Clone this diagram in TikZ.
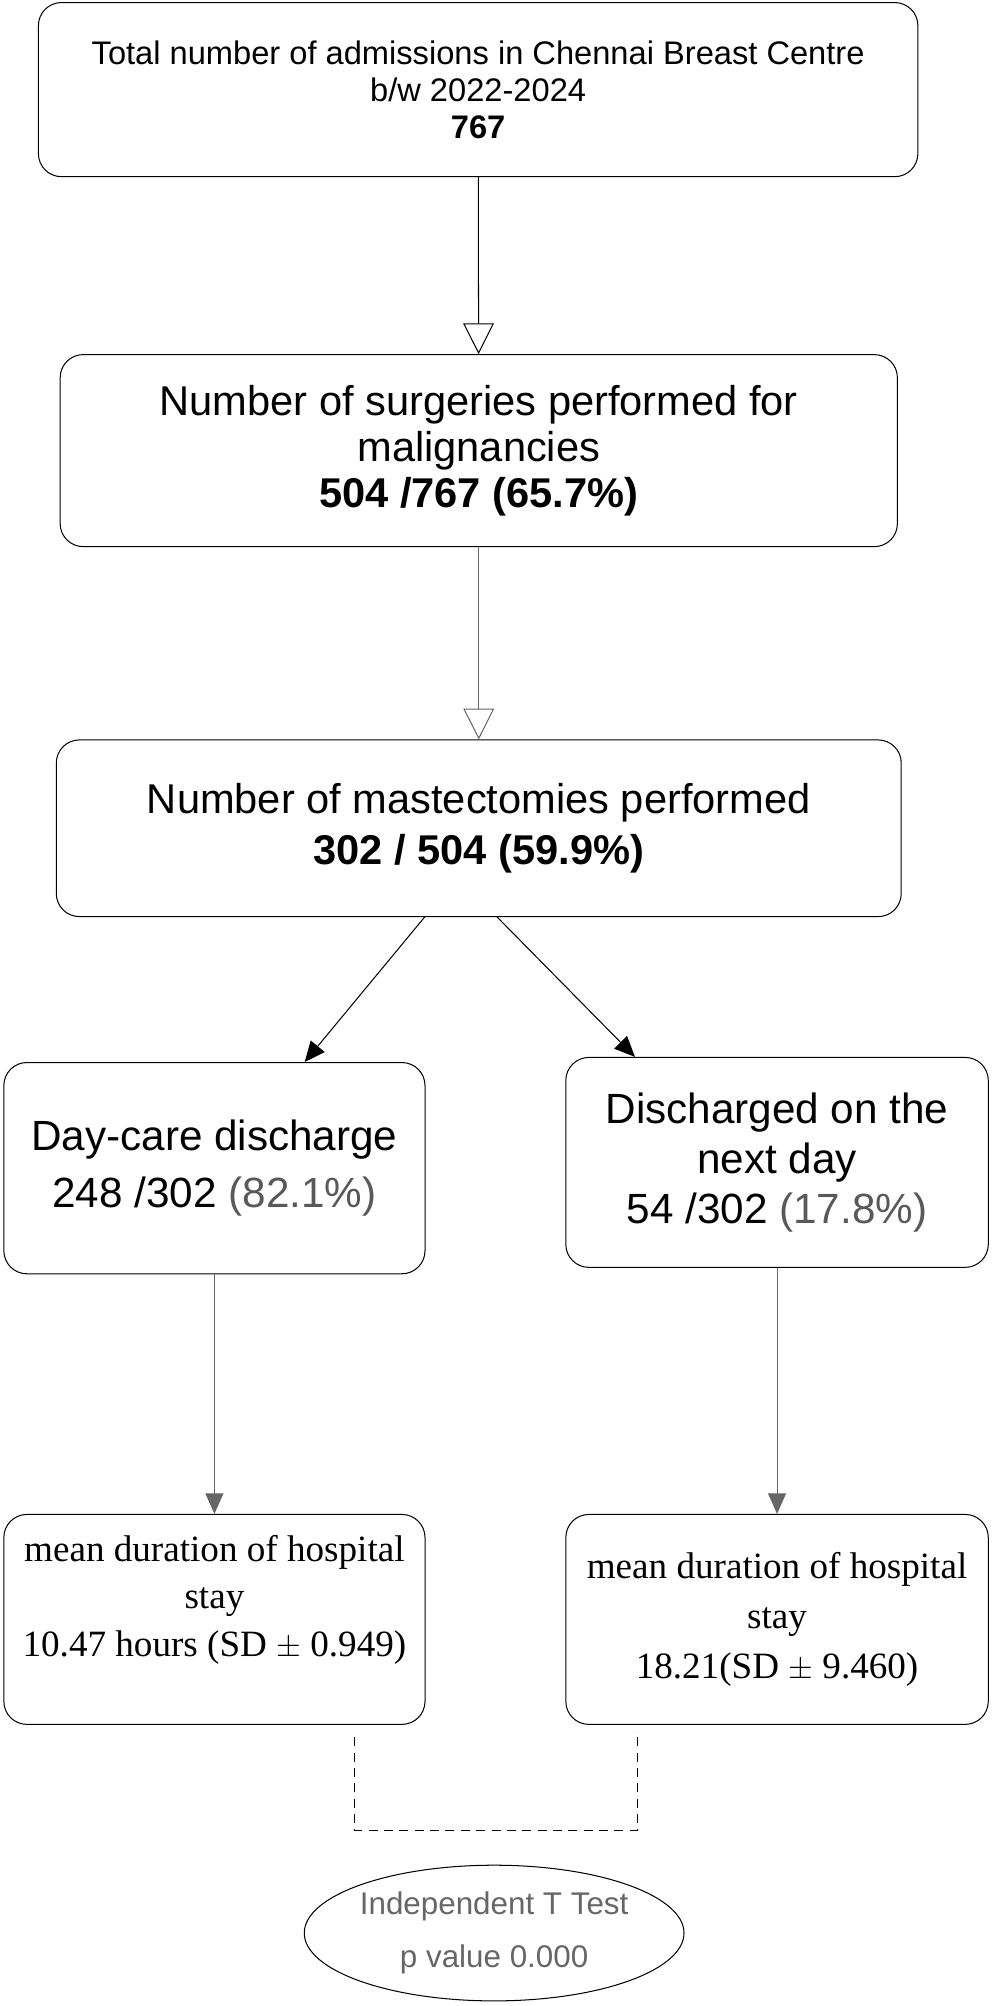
\documentclass[tikz,border=0pt]{standalone}
\usepackage{fontspec}
\setmainfont{Liberation Sans}
\newfontfamily\stayfont{Liberation Serif}
\usetikzlibrary{arrows.meta, positioning, shapes.geometric}

\tikzset{
	flowbox/.style = {draw, thick, rounded corners = 18pt, align = center, inner sep = 0pt},
	openhead/.style = {-{Triangle[open, length = 24pt, width = 24pt]}},
	fullhead/.style = {-{Triangle[length = 16pt, width = 14pt]}}
}

\begin{document}
\begin{tikzpicture}[x = 1pt, y = -1pt]

	\useasboundingbox (0, 0) rectangle (776, 1567);

	% Main chain of boxes

	\node [flowbox, minimum width = 687pt, minimum height = 136pt, font = \fontsize{25.5}{29}\selectfont] (admit) at (373.5, 70)
		{Total number of admissions in Chennai Breast Centre\\ b/w 2022-2024\\ \textbf{767}};
	\node [flowbox, minimum width = 654pt, minimum height = 150pt, font = \fontsize{32.5}{36}\selectfont] (surg) at (374, 352)
		{Number of surgeries performed for\\ malignancies\\ \textbf{504 /767 (65.7\%)}};
	\node [flowbox, minimum width = 660pt, minimum height = 138pt, font = \fontsize{32.5}{40}\selectfont] (mast) at (374, 647)
		{Number of mastectomies performed\\ \textbf{302 / 504 (59.9\%)}};

	% Discharge groups

	\node [flowbox, minimum width = 329pt, minimum height = 165pt, font = \fontsize{33}{45}\selectfont] (dayc) at (167.5, 912.5)
		{Day-care discharge\\ 248 /302 \textcolor{black!65}{(82.1\%)}};
	\node [flowbox, minimum width = 330pt, minimum height = 164pt, font = \fontsize{33}{39}\selectfont] (next) at (607, 908)
		{Discharged on the\\ next day\\ 54 /302 \textcolor{black!65}{(17.8\%)}};

	% Hospital stay

	\node [flowbox, minimum width = 329pt, minimum height = 164pt, font = \stayfont\fontsize{29}{37}\selectfont] (staya) at (167.5, 1265)
		{mean duration of hospital\\ stay\\ 10.47 hours (SD $\pm$ 0.949)\\ };
	\node [flowbox, minimum width = 330pt, minimum height = 164pt, font = \stayfont\fontsize{29}{39}\selectfont] (stayb) at (607, 1265)
		{mean duration of hospital\\ stay\\ 18.21(SD $\pm$ 9.460)};

	\node [draw, thick, ellipse, minimum width = 220pt, minimum height = 106pt, inner sep = 0pt, align = center, text = black!60, font = \fontsize{24.5}{41}\selectfont] (ttest) at (386, 1510)
		{Independent T Test\\ p value 0.000};

	% Connectors

	\draw [thick, openhead] (admit) -- (surg);
	\draw [thick, black!60, openhead] (surg.south) -- (mast.north);
	\draw [thick, fullhead] (332, 716) -- (dayc.north -| 238, 0);
	\draw [thick, fullhead] (388, 716) -- (next.north -| 496, 0);
	\draw [thick, black!60, fullhead] (dayc) -- (staya);
	\draw [thick, black!60, fullhead] (next) -- (stayb);

	\draw [thick, dash pattern = on 7pt off 5pt] (277, 1357) |- (498, 1430) -- (498, 1352);

\end{tikzpicture}
\end{document}
